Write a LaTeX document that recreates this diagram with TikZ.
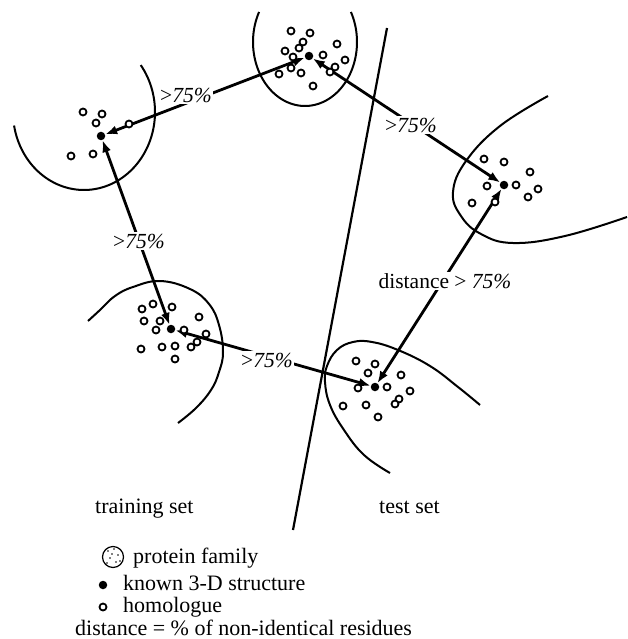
\documentclass[tikz,border=0pt]{standalone}
\usepackage{fontspec}
\setmainfont{Liberation Serif}
\usetikzlibrary{arrows.meta}
\begin{document}
\begin{tikzpicture}[x=1pt,y=-1pt,
  bnd/.style={line width=2pt},
  arr/.style={line width=2.8pt,{Latex[length=12pt,width=9pt]}-{Latex[length=12pt,width=9pt]}},
  kdot/.style={circle,fill=black,inner sep=0pt,minimum size=8.5pt},
  hom/.style={circle,draw=black,fill=white,line width=1.8pt,inner sep=0pt,minimum size=7pt},
  lab/.style={fill=white,inner sep=1.5pt,font=\fontsize{21.5}{25}\selectfont},
  txt/.style={inner sep=0pt,anchor=base west,font=\fontsize{22}{26}\selectfont}]
\useasboundingbox (0,0) rectangle (627,639);

% family boundaries
\draw[bnd] plot[domain=-28:208,samples=80,variable=\t] ({305+52*cos(\t)},{42+64*sin(\t)});
\draw[bnd] plot[domain=170:-37,samples=80,variable=\t] ({84+71*cos(\t)},{112+78*sin(\t)});
\draw[bnd] plot[smooth,tension=0.7] coordinates {(548,96) (500,126) (466,161) (453,192) (461,216) (481,234) (513,243) (565,236) (627,217)};
\draw[bnd] plot[smooth,tension=0.7] coordinates {(88,321) (100,310) (115,296) (133,287) (160,281) (190,289) (209,304) (219,325) (223,352) (219,372) (211,390) (196,408) (178,423)};
\draw[bnd] plot[smooth,tension=0.7] coordinates {(480,405) (458,387) (430,366) (398,350) (372,342) (353,342) (337,350) (327,366) (325,382) (330,405) (344,430) (364,455) (390,473)};

% divider
\coordinate (d1) at (387,28);
\coordinate (d2) at (293,530);
\draw[line width=2.2pt] (d1) -- (d2);

% known structures
\node[kdot] (A) at (309,56) {};
\node[kdot] (B) at (101,136) {};
\node[kdot] (C) at (504,185) {};
\node[kdot] (D) at (171,329) {};
\node[kdot] (E) at (375,387) {};

% distances
\draw[arr] (B) -- (A);
\draw[arr] (A) -- (C);
\draw[arr] (B) -- (D);
\draw[arr] (D) -- (E);
\draw[arr] (E) -- (C);

% homologues
\foreach \p [count=\i] in {
 (291,31),(310,33),(303,42),(299,48),(337,44),(285,51),(293,57),(323,55),(345,60),
 (291,68),(335,67),(330,72),(279,74),(301,73),(313,86),
 (83,112),(102,114),(96,123),(129,124),(71,156),(93,154),
 (142,309),(153,304),(172,307),(144,321),(160,321),(199,317),(156,330),(184,330),(206,334),
 (197,342),(191,347),(141,349),(162,347),(175,346),(175,359),
 (356,361),(375,364),(368,373),(358,388),(387,387),(401,375),(410,391),(399,399),(395,404),
 (343,406),(366,405),(378,417),
 (484,159),(504,162),(530,172),(487,186),(516,185),(538,189),(528,197),(472,203),(495,202)}
 \node[hom] (h\i) at \p {};

% labels
\node[lab] (l1) at (186,95) {>\textit{75\%}};
\node[lab] (l2) at (411,125) {>\textit{75\%}};
\node[lab] (l3) at (139,241) {>\textit{75\%}};
\node[lab] (l4) at (267,360) {>\textit{75\%}};
\node[lab] (l5) at (445,281) {distance > \textit{75\%}};

\node[txt] (ts1) at (95,513) {training set};
\node[txt] (ts2) at (379,513) {test set};

% legend
\node[circle,draw=black,line width=1.2pt,minimum size=21pt,inner sep=0pt] (pf) at (113,557) {};
\foreach \q in {(108,551),(114,549),(118,555),(110,558),(116,562),(107,563),(120,561),(112,554)}
  \fill \q circle (0.9);
\node[txt] (t1) at (133,563) {protein family};
\node[kdot] (k1) at (103,585) {};
\node[txt] (t2) at (123,590) {known 3-D structure};
\node[hom] (k2) at (103,607) {};
\node[txt] (t3) at (123,612) {homologue};
\node[txt] (t4) at (75,635) {distance = \% of non-identical residues};
\end{tikzpicture}
\end{document}
